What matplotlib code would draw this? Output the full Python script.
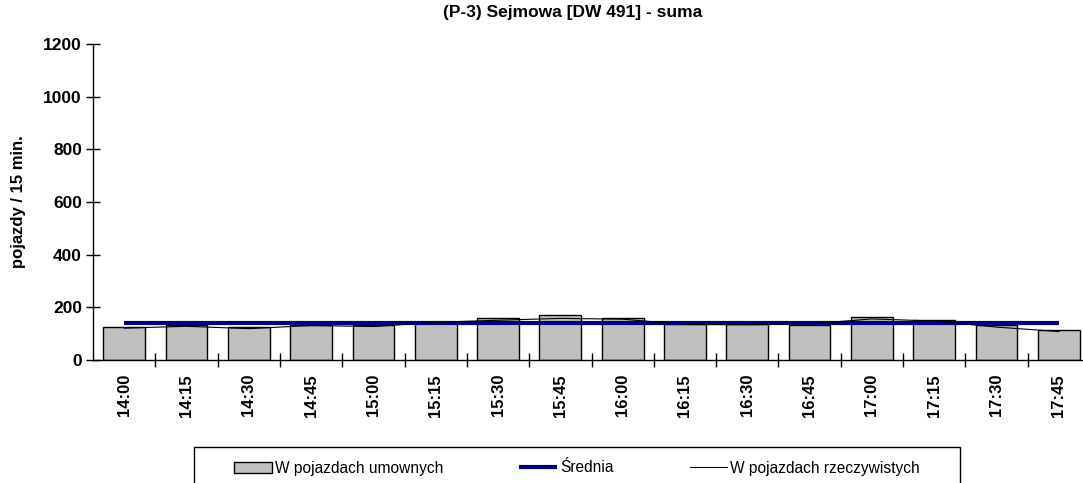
import matplotlib
matplotlib.use("Agg")
import matplotlib.pyplot as plt
from matplotlib.patches import Rectangle
from matplotlib.legend_handler import HandlerPatch
import numpy as np

categories = ["14:00", "14:15", "14:30", "14:45", "15:00", "15:15", "15:30", "15:45",
              "16:00", "16:15", "16:30", "16:45", "17:00", "17:15", "17:30", "17:45"]
umowne = [124, 133, 124, 133, 133, 143, 158, 170, 158, 135, 135, 133, 162, 151, 132, 113]
rzeczywiste = [121, 128, 119, 131, 127, 143, 151, 158, 155, 135, 134, 137, 156, 148, 125, 108]
srednia_value = 141
yticks = [0, 200, 400, 600, 800, 1000, 1200]

plt.rcParams['font.family'] = ['Liberation Sans', 'DejaVu Sans']

W, H = 1083, 483
fig = plt.figure(figsize=(W / 100, H / 100), dpi=100)
ax = fig.add_axes([93 / W, (H - 360) / H, (1090 - 93) / W, (360 - 44) / H])

x = np.arange(len(categories))
bars = ax.bar(x, umowne, width=0.67, color="#C0C0C0", edgecolor="black", linewidth=1.0,
              label="W pojazdach umownych", zorder=2)
l_mean, = ax.plot(x, [srednia_value] * len(categories), color="#000080", linewidth=3.0,
                  label="Średnia", zorder=3, solid_capstyle="butt")
l_real, = ax.plot(x, rzeczywiste, color="black", linewidth=0.8,
                  label="W pojazdach rzeczywistych", zorder=4)

ax.set_xlim(-0.5, len(categories) - 0.5)
ax.set_ylim(0, 1200)
ax.set_yticks(yticks)
ax.set_yticklabels([str(v) for v in yticks], fontweight="bold", fontsize=12.5)
ax.set_xticks(x)
ax.set_xticklabels(categories, rotation=90, fontweight="bold", fontsize=12)
ax.set_xticks(np.arange(len(categories)) + 0.5, minor=True)
ax.tick_params(axis="x", which="major", length=0, pad=10)
ax.tick_params(axis="x", which="minor", direction="inout", length=10, width=1)
ax.tick_params(axis="y", direction="inout", length=10, width=1, pad=3)

for s in ["top", "right"]:
    ax.spines[s].set_visible(False)
for s in ["left", "bottom"]:
    ax.spines[s].set_linewidth(1.0)
    ax.spines[s].set_color("black")

ax.set_ylabel("pojazdy / 15 min.", fontweight="bold", fontsize=12, labelpad=12)
fig.text(573 / W, 1 - 13 / H, "(P-3) Sejmowa [DW 491] - suma",
         ha="center", va="center", fontweight="bold", fontsize=12.5)

# legend frame (extends to the figure edge as in the reference)
fig.patches.append(Rectangle((194 / W, 1 - 490 / H), (960 - 194) / W, 43 / H,
                             transform=fig.transFigure, fill=False,
                             edgecolor="black", linewidth=1.0))


def small_patch(legend, orig_handle, xdescent, ydescent, width, height, fontsize):
    return Rectangle((-xdescent, -ydescent + height * 0.15), width, height * 0.7)


leg = fig.legend(handles=[bars, l_mean, l_real],
                 labels=["W pojazdach umownych", "Średnia", "W pojazdach rzeczywistych"],
                 loc="center", bbox_to_anchor=(577 / W, 1 - 468 / H),
                 ncol=3, frameon=False, handlelength=2.4, handletextpad=0.2,
                 columnspacing=4.9, borderaxespad=0, borderpad=0,
                 prop={"size": 11.2},
                 handler_map={type(bars.patches[0]): HandlerPatch(patch_func=small_patch)})

fig.savefig("out.png", dpi=100)
